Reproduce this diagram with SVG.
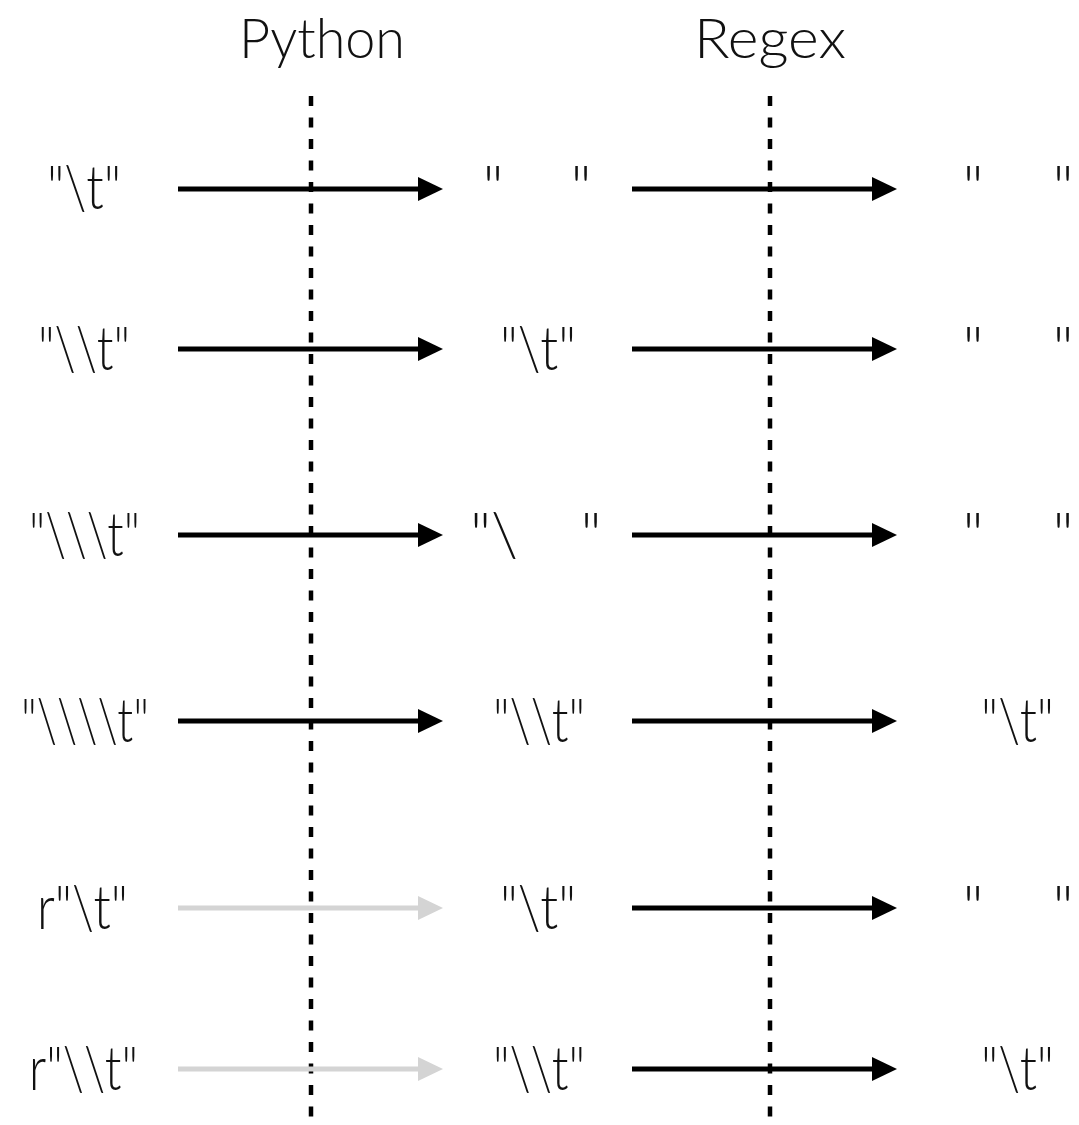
<svg xmlns="http://www.w3.org/2000/svg" width="1079" height="1125" viewBox="0 0 1079 1125">
<style>
text{font-family:Lato,"Open Sans","Liberation Sans",sans-serif;font-weight:300;fill:#111;text-anchor:middle;white-space:pre}
.h{font-size:56px}
.t{font-size:62px}
.s{text-anchor:start}
.dot{stroke:#000;stroke-width:4.5;stroke-dasharray:10 11.5;fill:none}
.a{stroke:#000;stroke-width:5;fill:none;marker-end:url(#ah)}
.g{stroke:#d4d4d4;stroke-width:5;fill:none;marker-end:url(#ahg)}
</style>
<defs>
<marker id="ah" markerUnits="userSpaceOnUse" markerWidth="26" markerHeight="26" viewBox="0 0 26 26" refX="2" refY="13" orient="auto"><path d="M0,1 L25,13 L0,25 Z" fill="#000"/></marker>
<marker id="ahg" markerUnits="userSpaceOnUse" markerWidth="26" markerHeight="26" viewBox="0 0 26 26" refX="2" refY="13" orient="auto"><path d="M0,1 L25,13 L0,25 Z" fill="#d4d4d4"/></marker>
</defs>
<rect width="1079" height="1125" fill="#fff"/>
<g id="headers">
<text class="h" x="322" y="58" textLength="166" lengthAdjust="spacingAndGlyphs">Python</text>
<text class="h" x="770" y="58" textLength="152" lengthAdjust="spacingAndGlyphs">Regex</text>
</g>
<g id="dividers">
<line class="dot" x1="311" y1="96" x2="311" y2="1125"/>
<line class="dot" x1="770" y1="96" x2="770" y2="1125"/>
</g>
<g id="col-input">
<text id="in1" class="t s" x="47" y="209" textLength="74" lengthAdjust="spacingAndGlyphs">"\t"</text>
<text id="in2" class="t s" x="38" y="370" textLength="92" lengthAdjust="spacingAndGlyphs">"\\t"</text>
<text id="in3" class="t s" x="29" y="556" textLength="111" lengthAdjust="spacingAndGlyphs">"\\\t"</text>
<text id="in4" class="t s" x="21" y="742" textLength="128" lengthAdjust="spacingAndGlyphs">"\\\\t"</text>
<text id="in5" class="t s" x="37" y="929" textLength="91" lengthAdjust="spacingAndGlyphs">r"\t"</text>
<text id="in6" class="t s" x="29" y="1090" textLength="109" lengthAdjust="spacingAndGlyphs">r"\\t"</text>
</g>
<g id="col-python">
<text id="py1" class="t" y="209"><tspan x="493">"</tspan><tspan x="537">    </tspan><tspan x="581">"</tspan></text>
<text id="py2" class="t s" x="500" y="370" textLength="76" lengthAdjust="spacingAndGlyphs">"\t"</text>
<text id="py3" class="t" y="556"><tspan x="494">"\</tspan><tspan x="548">   </tspan><tspan x="591">"</tspan></text>
<text id="py4" class="t s" x="493" y="742" textLength="92" lengthAdjust="spacingAndGlyphs">"\\t"</text>
<text id="py5" class="t s" x="500" y="929" textLength="76" lengthAdjust="spacingAndGlyphs">"\t"</text>
<text id="py6" class="t s" x="493" y="1090" textLength="92" lengthAdjust="spacingAndGlyphs">"\\t"</text>
</g>
<g id="col-regex">
<text id="re1" class="t" y="209"><tspan x="973">"</tspan><tspan x="1018">    </tspan><tspan x="1063">"</tspan></text>
<text id="re2" class="t" y="370"><tspan x="973">"</tspan><tspan x="1018">    </tspan><tspan x="1063">"</tspan></text>
<text id="re3" class="t" y="556"><tspan x="973">"</tspan><tspan x="1018">    </tspan><tspan x="1063">"</tspan></text>
<text id="re4" class="t s" x="981" y="742" textLength="73" lengthAdjust="spacingAndGlyphs">"\t"</text>
<text id="re5" class="t" y="929"><tspan x="973">"</tspan><tspan x="1018">    </tspan><tspan x="1063">"</tspan></text>
<text id="re6" class="t s" x="981" y="1090" textLength="73" lengthAdjust="spacingAndGlyphs">"\t"</text>
</g>
<g id="connectors">
<line class="a" x1="178" y1="189" x2="420" y2="189"/>
<line class="a" x1="632" y1="189" x2="874" y2="189"/>
<line class="a" x1="178" y1="349" x2="420" y2="349"/>
<line class="a" x1="632" y1="349" x2="874" y2="349"/>
<line class="a" x1="178" y1="535" x2="420" y2="535"/>
<line class="a" x1="632" y1="535" x2="874" y2="535"/>
<line class="a" x1="178" y1="721" x2="420" y2="721"/>
<line class="a" x1="632" y1="721" x2="874" y2="721"/>
<line class="g" x1="178" y1="908" x2="420" y2="908"/>
<line class="a" x1="632" y1="908" x2="874" y2="908"/>
<line class="g" x1="178" y1="1069" x2="420" y2="1069"/>
<line class="a" x1="632" y1="1069" x2="874" y2="1069"/>
</g>
</svg>
